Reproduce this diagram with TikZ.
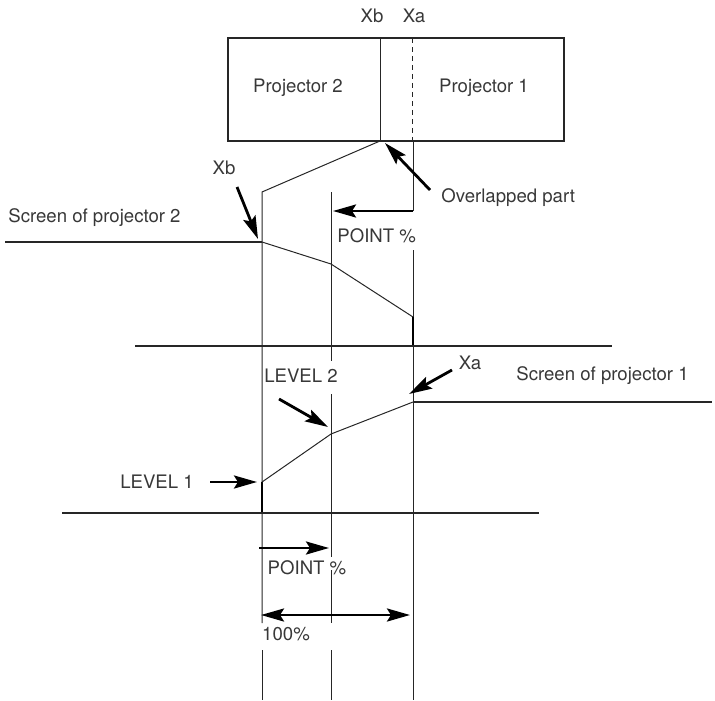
\documentclass[tikz,border=0pt]{standalone}
\usepackage{fontspec}
\setmainfont{TeX Gyre Heros}
\usepackage{tikz}
\usetikzlibrary{
    arrows.meta,
    positioning,
}
\tikzset{
    lbl/.style = {
        inner sep=0pt,
        text=black!78,
    },
    guide/.style = {
        line width=0.5pt,
        draw=black!85,
    },
    screen/.style = {
        line width=0.75pt,
        draw=black!85,
    },
    drop/.style = {
        line width=1.1pt,
        draw=black,
    },
}
\tikzstyle{arrow} = [
    line width=1.4pt,
    ->,
    >={Stealth[length=11.5pt,width=6.5pt,inset=2pt]}
]

\begin{document}
\begin{tikzpicture}[x=0.5pt,y=-0.5pt]
        \tikzstyle{every node}=[font=\fontsize{9.3}{11}\selectfont]
        \useasboundingbox (0,0) rectangle (715,700);

        % projectors
        \draw [guide, line width=0.6pt] (228,38) rectangle (564,141);
        \coordinate (edgeB) at (380,141);
        \draw [guide] (380,38) -- (edgeB);
        \draw [guide, dash pattern=on 2.5pt off 2pt] (412,38) -- (412,141);
        \node [lbl] (proj2) at (298,88) {Projector 2};
        \node [lbl] (proj1) at (484,88) {Projector 1};
        \node [lbl] (xbTop) at (372,16) {Xb};
        \node [lbl] (xaTop) at (414,16) {Xa};

        % guide lines
        \coordinate (xbHigh) at (262,192);
        \draw [guide] (edgeB) -- (xbHigh) -- (262,623);
        \draw [guide] (262,650) -- (262,700);
        \draw [guide] (331,192) -- (331,361);
        \draw [guide] (331,394) -- (331,557);
        \draw [guide] (331,570) -- (331,623);
        \draw [guide] (331,650) -- (331,700);
        \draw [guide] (413,141) -- (413,211);
        \draw [guide] (413,250) -- (413,700);

        % screen of projector 2
        \coordinate (s2a) at (262,242);
        \coordinate (s2b) at (331,264);
        \coordinate (s2c) at (413,317);
        \coordinate (s2d) at (413,346);
        \draw [screen] (5,242) -- (s2a);
        \draw [guide] (s2a) -- (s2b) -- (s2c);
        \draw [drop] (s2c) -- (s2d);
        \draw [screen] (135,346) -- (612,346);
        \node [lbl, anchor=west] (screenTwo) at (8,218) {Screen of projector 2};

        % screen of projector 1
        \coordinate (s1a) at (262,513);
        \coordinate (s1b) at (262,482);
        \coordinate (s1c) at (331,434);
        \coordinate (s1d) at (413,402);
        \draw [drop] (s1a) -- (s1b);
        \draw [guide] (s1b) -- (s1c) -- (s1d);
        \draw [screen] (s1d) -- (712,402);
        \draw [screen] (62,513) -- (539,513);
        \node [lbl, anchor=west] (screenOne) at (516,376) {Screen of projector 1};

        % labels
        \node [lbl] (xbLbl) at (224,168) {Xb};
        \node [lbl, anchor=west] (overlap) at (441,198) {Overlapped part};
        \node [lbl, anchor=west] (pointUp) at (337,236) {POINT \%};
        \node [lbl] (xaLbl) at (470,363) {Xa};
        \node [lbl] (levelTwo) at (301,376) {LEVEL 2};
        \node [lbl] (levelOne) at (157,482) {LEVEL 1};
        \node [lbl] (pointDown) at (307,568) {POINT \%};
        \node [lbl] (full) at (286,634) {100\%};

        % arrows
        \coordinate (xbTail) at (237,187);
        \coordinate (xbTip) at (258,239);
        \coordinate (ovTail) at (430,190);
        \coordinate (ovTip) at (385,143);
        \coordinate (puTail) at (413,211);
        \coordinate (puTip) at (333,211);
        \coordinate (xaTail) at (452,370);
        \coordinate (xaTip) at (409,394);
        \coordinate (l2Tail) at (279,399);
        \coordinate (l2Tip) at (328,427);
        \coordinate (l1Tail) at (210,482);
        \coordinate (l1Tip) at (257,482);
        \coordinate (pdTail) at (259,548);
        \coordinate (pdTip) at (329,548);
        \coordinate (fullL) at (261,615);
        \coordinate (fullR) at (410,615);

        \draw [arrow] (xbTail) -- (xbTip);
        \draw [arrow] (ovTail) -- (ovTip);
        \draw [arrow] (puTail) -- (puTip);
        \draw [arrow] (xaTail) -- (xaTip);
        \draw [arrow] (l2Tail) -- (l2Tip);
        \draw [arrow] (l1Tail) -- (l1Tip);
        \draw [arrow] (pdTail) -- (pdTip);
        \draw [arrow, <->] (fullL) -- (fullR);

\end{tikzpicture}
\end{document}
